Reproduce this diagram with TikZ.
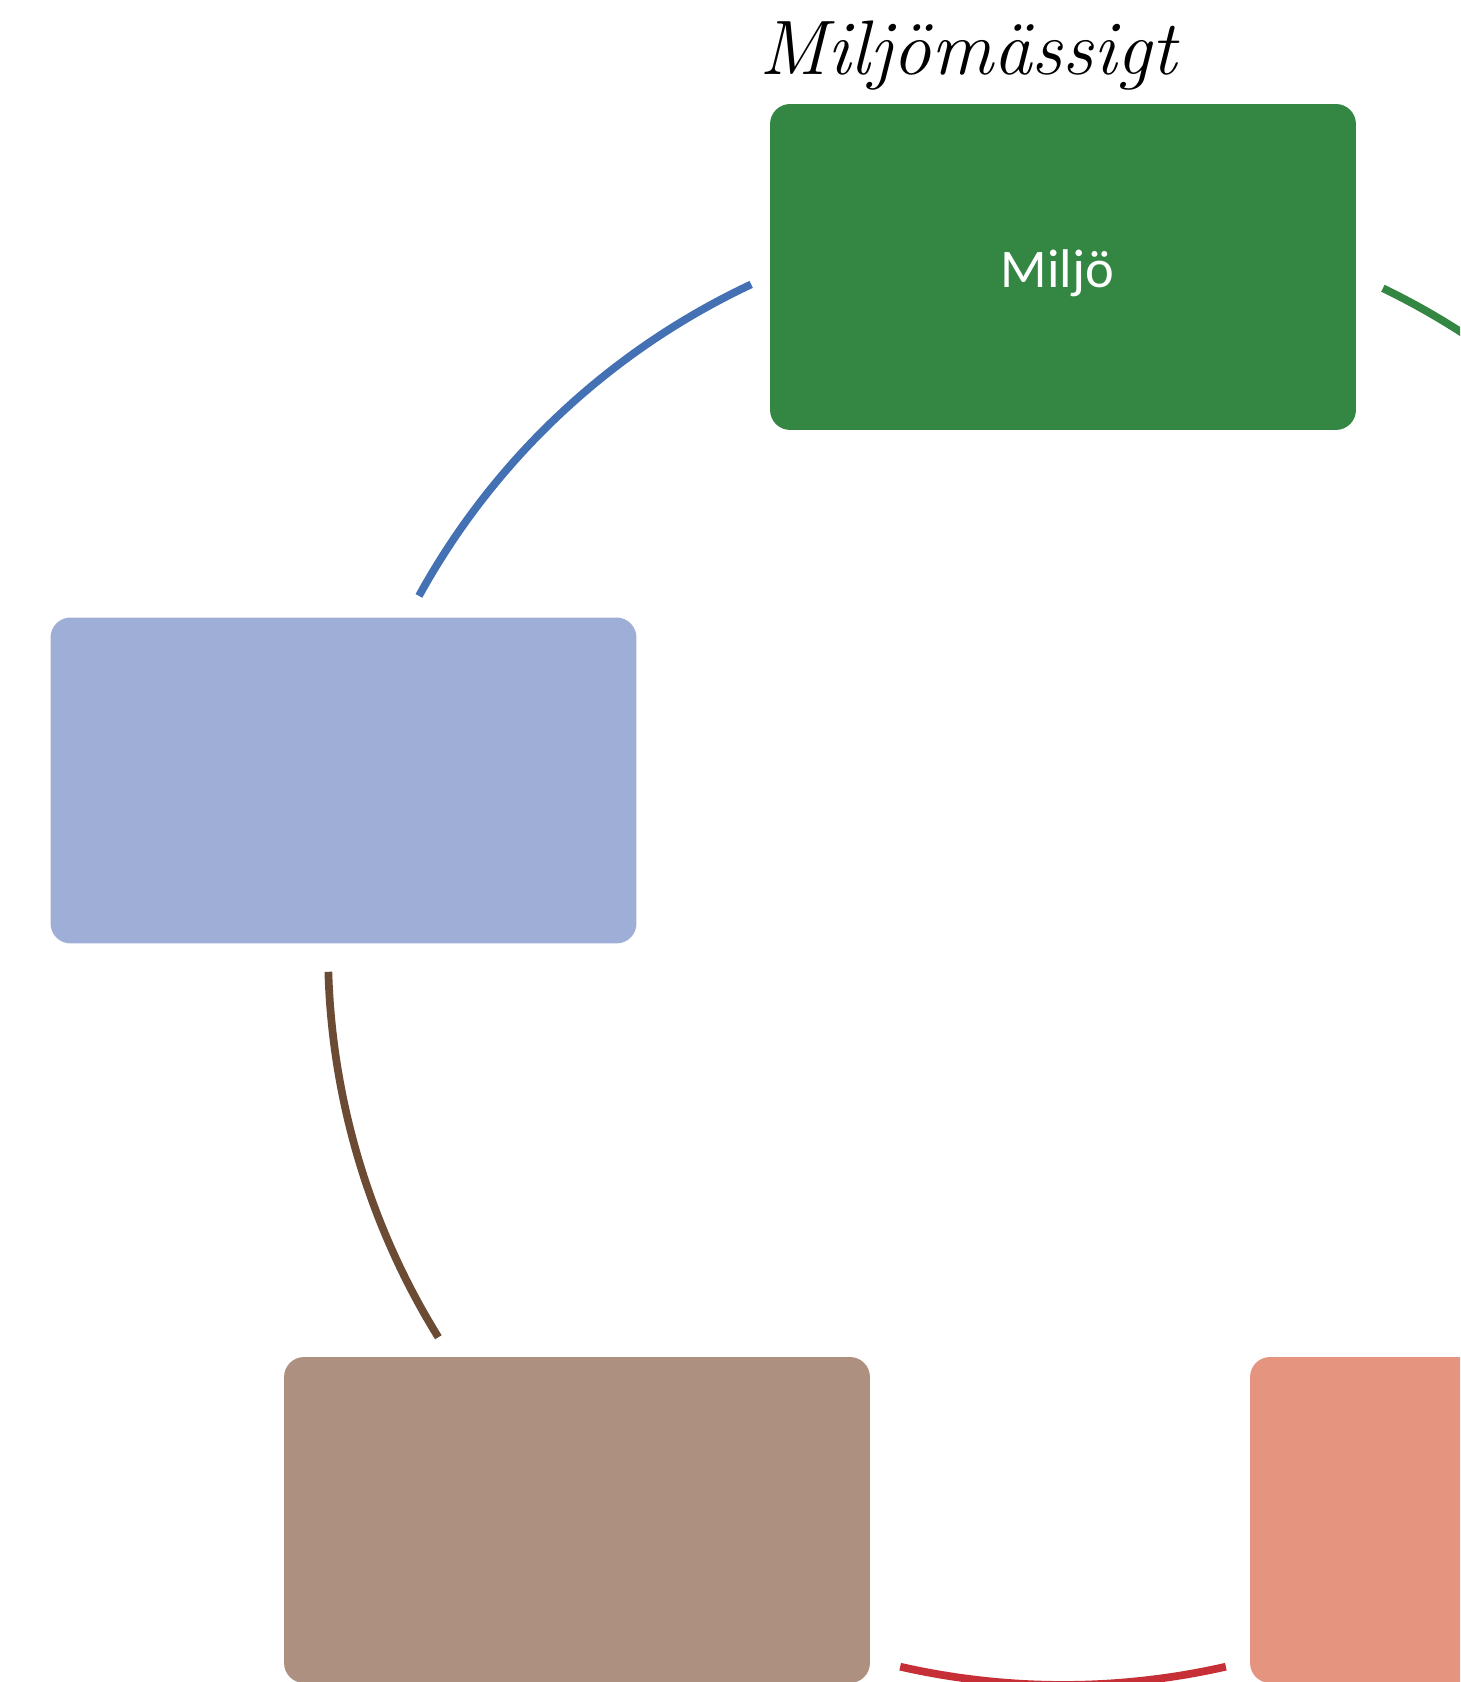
\documentclass[tikz,border=0pt]{standalone}
\usepackage{fontspec}
\newfontfamily\boxfont{Carlito}
\definecolor{miljogreen}{HTML}{338743}
\definecolor{leftblue}{HTML}{9FAED6}
\definecolor{lowbrown}{HTML}{AD907F}
\definecolor{lowsalmon}{HTML}{E5957F}
\definecolor{ringblue}{HTML}{4470B4}
\definecolor{ringbrown}{HTML}{6B4B34}
\definecolor{ringred}{HTML}{C62F36}
\begin{document}
\begin{tikzpicture}[x=0.02cm,y=0.02cm,
    box/.style={rounded corners=0.4cm, minimum width=11.72cm, minimum height=6.52cm,
        inner sep=0pt, text=white, font=\boxfont\fontsize{31}{37}\selectfont},
    ring/.style={line width=4.4pt}]
    \useasboundingbox (0,0) rectangle (1460,1682);
    \clip (0,0) rectangle (1460,1682);

    % Centre of the cycle
    \coordinate (hub) at (1063,732);

    % Heading
    \node[font=\fontsize{44}{50}\selectfont\itshape, anchor=base] (rubrik) at (968,1607) {Miljömässigt};

    % Boxes
    \node[box, fill=miljogreen] (miljo) at (1063,1415) {\raisebox{-0.13cm}[\height][\depth]{Miljö}\kern0.22cm\null};
    \node[box, fill=leftblue] (vanster) at (343.5,901.5) {};
    \node[box, fill=lowbrown] (nedvanster) at (577,162) {};
    \node[box, fill=lowsalmon] (nedhoger) at (1543,162) {};

    % Arcs of the ring
    \draw[ring, ringblue] ([shift={(115.1:735)}]hub) arc[start angle=115.1, end angle=151.2, radius=735];
    \draw[ring, ringbrown] ([shift={(181.7:735)}]hub) arc[start angle=181.7, end angle=211.8, radius=735];
    \draw[ring, ringred] ([shift={(257.2:735)}]hub) arc[start angle=257.2, end angle=282.8, radius=735];
    \draw[ring, miljogreen] ([shift={(64.2:735)}]hub) arc[start angle=64.2, end angle=28.8, radius=735];
\end{tikzpicture}
\end{document}
